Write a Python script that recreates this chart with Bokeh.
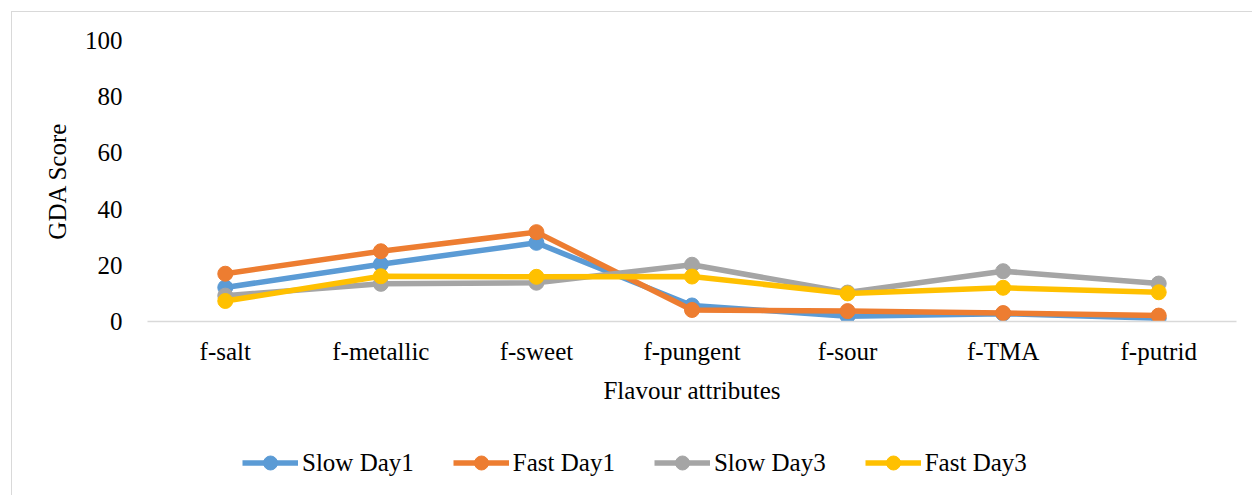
from bokeh.plotting import figure
from bokeh.layouts import column
from bokeh.models import FactorRange, Range1d, FixedTicker, Legend, LegendItem, ColumnDataSource
from bokeh.embed import file_html
from bokeh.resources import INLINE

categories = ["f-salt", "f-metallic", "f-sweet", "f-pungent", "f-sour", "f-TMA", "f-putrid"]
slow_day1 = [12.1, 20.4, 28.0, 5.7, 1.9, 2.8, 1.2]
fast_day1 = [17.0, 25.0, 31.8, 4.1, 3.7, 3.0, 2.1]
slow_day3 = [9.2, 13.4, 13.8, 20.2, 10.3, 17.9, 13.5]
fast_day3 = [7.3, 16.1, 15.9, 16.0, 10.0, 12.0, 10.4]
series_names = ["Slow Day1", "Fast Day1", "Slow Day3", "Fast Day3"]
series_values = [slow_day1, fast_day1, slow_day3, fast_day3]
colors = ["#5B9BD5", "#ED7D31", "#A5A5A5", "#FFC000"]
y_ticks = [0, 20, 40, 60, 80, 100]

FONT = "Liberation Serif"
LW = 5.5
MS = 15

# ---------------- main chart ----------------
p = figure(
    x_range=FactorRange(*categories, range_padding=0),
    y_range=Range1d(0, 100),
    width=1241, height=404,
    output_backend="svg", toolbar_location=None,
    min_border_left=135, min_border_right=17, min_border_top=28, min_border_bottom=95,
)
p.outline_line_color = None
p.xgrid.grid_line_color = None
p.ygrid.grid_line_color = None

for name, vals, col in zip(series_names, series_values, colors):
    src = ColumnDataSource(dict(x=categories, y=vals))
    p.line("x", "y", source=src, line_color=col, line_width=LW)
    p.scatter("x", "y", source=src, size=MS, fill_color=col, line_color=col)

p.yaxis.ticker = FixedTicker(ticks=y_ticks)
p.yaxis.axis_line_color = None
p.yaxis.major_tick_line_color = None
p.yaxis.minor_tick_line_color = None
p.yaxis.major_label_text_font = FONT
p.yaxis.major_label_text_font_size = "25px"
p.yaxis.major_label_text_color = "#000000"
p.yaxis.major_label_standoff = 19
p.yaxis.axis_label = "GDA Score"
p.yaxis.axis_label_text_font = FONT
p.yaxis.axis_label_text_font_size = "25px"
p.yaxis.axis_label_text_font_style = "normal"
p.yaxis.axis_label_text_color = "#000000"
p.yaxis.axis_label_standoff = 11

p.xaxis.axis_line_color = "#D9D9D9"
p.xaxis.axis_line_width = 1.5
p.xaxis.major_tick_line_color = None
p.xaxis.minor_tick_line_color = None
p.xaxis.major_label_text_font = FONT
p.xaxis.major_label_text_font_size = "25px"
p.xaxis.major_label_text_color = "#000000"
p.xaxis.major_label_standoff = 10
p.xaxis.axis_label = "Flavour attributes"
p.xaxis.axis_label_text_font = FONT
p.xaxis.axis_label_text_font_size = "25px"
p.xaxis.axis_label_text_font_style = "normal"
p.xaxis.axis_label_text_color = "#000000"
p.xaxis.axis_label_standoff = 9

# ---------------- legend strip (series kept out of its view, only the legend shows) ----------------
q = figure(
    x_range=FactorRange(*categories, range_padding=0),
    y_range=Range1d(-200, -100),
    width=1241, height=80,
    output_backend="svg", toolbar_location=None,
    x_axis_location=None, y_axis_location=None,
    min_border=0,
)
q.outline_line_color = None
q.xgrid.grid_line_color = None
q.ygrid.grid_line_color = None

items = []
for name, vals, col in zip(series_names, series_values, colors):
    src = ColumnDataSource(dict(x=categories, y=vals))
    l = q.line("x", "y", source=src, line_color=col, line_width=LW)
    c = q.scatter("x", "y", source=src, size=MS, fill_color=col, line_color=col)
    items.append(LegendItem(label=name, renderers=[l, c]))

legend = Legend(
    items=items,
    orientation="horizontal",
    location=(95, 16),
    label_text_font="Times New Roman",
    label_text_font_size="25px",
    label_text_font_style="normal",
    label_text_color="#000000",
    glyph_width=56, glyph_height=35,
    label_standoff=4, spacing=39,
    padding=0, margin=0,
    border_line_color=None, background_fill_alpha=0,
)
q.add_layout(legend, "center")

layout = column(p, q, spacing=0)
layout.margin = (11, 0, 0, 11)
layout.styles = {"border-left": "1px solid #D9D9D9", "border-top": "1px solid #D9D9D9"}

open("out.html", "w").write(file_html(layout, INLINE))
